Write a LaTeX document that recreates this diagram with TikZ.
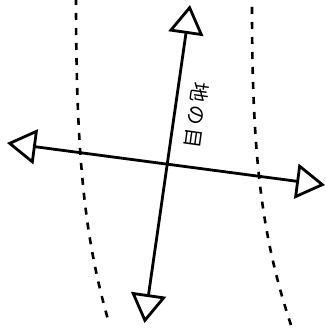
\documentclass[tikz,border=0pt]{standalone}
\usepackage{fontspec}
\newfontfamily\cjk{Noto Sans CJK JP}
\usetikzlibrary{arrows.meta}
\tikzset{
  guide/.style={line width=2.6pt, dash pattern=on 7pt off 8pt},
  headtip/.tip={Triangle[open,length=29pt,width=35pt,line width=2.8pt]},
  grainline/.style={line width=2.8pt, headtip-headtip},
  lbl/.style={font=\cjk\fontsize{20}{20}\selectfont, inner sep=0pt}
}
\begin{document}
\begin{tikzpicture}[x=1pt,y=-1pt]
\path[use as bounding box] (0,0) rectangle (326,329);
\coordinate (ctop) at (190,5);
\coordinate (cbot) at (144.5,323);
\coordinate (cleft) at (7,143);
\coordinate (cright) at (325,185);
\coordinate (l1) at (76,-2);
\coordinate (l2) at (109,323);
\coordinate (r1) at (252,7);
\coordinate (r2) at (293,331);
\draw[guide] (l1) .. controls (76,160) and (85,240) .. (l2);
\draw[guide] (r1) .. controls (252,160) and (262,240) .. (r2);
\draw[grainline] (cbot) -- (ctop);
\draw[grainline] (cleft) -- (cright);
\node[lbl, rotate=-97.9] (label) at (196.5,115.5) {地\hspace{3pt}の\hspace{3pt}目};
\end{tikzpicture}
\end{document}
